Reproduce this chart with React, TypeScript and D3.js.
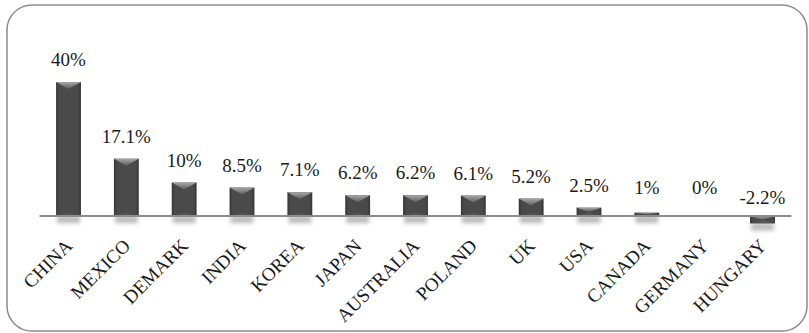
import React from "react";
import * as d3 from "d3";

const categories = ["CHINA", "MEXICO", "DEMARK", "INDIA", "KOREA", "JAPAN", "AUSTRALIA", "POLAND", "UK", "USA", "CANADA", "GERMANY", "HUNGARY"];
const values = [40, 17.1, 10, 8.5, 7.1, 6.2, 6.2, 6.1, 5.2, 2.5, 1, 0, -2.2];
const valueLabels = ["40%", "17.1%", "10%", "8.5%", "7.1%", "6.2%", "6.2%", "6.1%", "5.2%", "2.5%", "1%", "0%", "-2.2%"];

const W = 809;
const H = 333;
const FONT = "'Liberation Serif', 'Times New Roman', serif";

export default function App() {
  const x = d3.scaleBand<string>().domain(categories).range([39.6, 791.4]).paddingInner(0.57).paddingOuter(0.285);
  const y = d3.scaleLinear().domain([0, 40]).range([216, 82]);
  const y0 = y(0);
  const bw = x.bandwidth();

  return (
    <svg width={W} height={H} style={{ position: "absolute", left: 0, top: 0, background: "#fff" }}>
      <defs>
        <linearGradient id="topBevel" x1="0" y1="0" x2="0" y2="1">
          <stop offset="0" stopColor="#a8a8a8" />
          <stop offset="1" stopColor="#5c5c5c" />
        </linearGradient>
        <linearGradient id="body" x1="0" y1="0" x2="1" y2="0">
          <stop offset="0" stopColor="#353535" />
          <stop offset="0.12" stopColor="#4a4a4a" />
          <stop offset="0.88" stopColor="#4a4a4a" />
          <stop offset="1" stopColor="#353535" />
        </linearGradient>
        <filter id="blur" x="-50%" y="-50%" width="200%" height="200%">
          <feGaussianBlur stdDeviation="2.2" />
        </filter>
      </defs>
      <rect x={7} y={5} width={800} height={326} rx={25} ry={25} fill="#fff" stroke="#8c8c8c" strokeWidth={1.5} />

      {/* shadows */}
      {categories.map((c, i) => {
        const v = values[i];
        if (v === 0) return null;
        const x0 = x(c)!;
        const yb = Math.max(y(v), y0);
        return <rect key={"s" + c} x={x0 + 1} y={yb} width={bw - 2} height={7} fill="#9a9a9a" opacity={0.7} filter="url(#blur)" />;
      })}

      {/* bars */}
      {categories.map((c, i) => {
        const v = values[i];
        if (v === 0) return null;
        const x0 = x(c)!;
        const x1 = x0 + bw;
        const top = Math.min(y(v), y0);
        const bot = Math.max(y(v), y0);
        const h = bot - top;
        const b = Math.min(7, h / 2);
        const cx = x0 + bw / 2;
        return (
          <g key={"b" + c}>
            <rect x={x0} y={top} width={bw} height={h} fill="url(#body)" />
            <path d={`M${x0},${top}L${x1},${top}L${cx},${top + b}Z`} fill="url(#topBevel)" />
            <path d={`M${x0},${bot}L${x1},${bot}L${cx},${bot - Math.min(3, h / 2)}Z`} fill="#585858" />
          </g>
        );
      })}

      <line x1={39.6} x2={791.4} y1={y0} y2={y0} stroke="#8c8c8c" strokeWidth={2} />

      {/* value labels */}
      {categories.map((c, i) => {
        const v = values[i];
        const cx = x(c)! + bw / 2;
        const by = v < 0 ? y0 - 12 : Math.min(y(v) - 16, y0 - 22);
        return (
          <text key={"l" + c} x={cx} y={by} textAnchor="middle" fontFamily={FONT} fontSize={19} fill="#1a1a1a">
            {valueLabels[i]}
          </text>
        );
      })}

      {/* category labels */}
      {categories.map((c) => {
        const cx = x(c)! + bw / 2;
        return (
          <text key={"c" + c} transform={`translate(${cx + 5},${y0 + 31}) rotate(-45)`} textAnchor="end" fontFamily={FONT} fontSize={19} fill="#1a1a1a">
            {c}
          </text>
        );
      })}
    </svg>
  );
}
